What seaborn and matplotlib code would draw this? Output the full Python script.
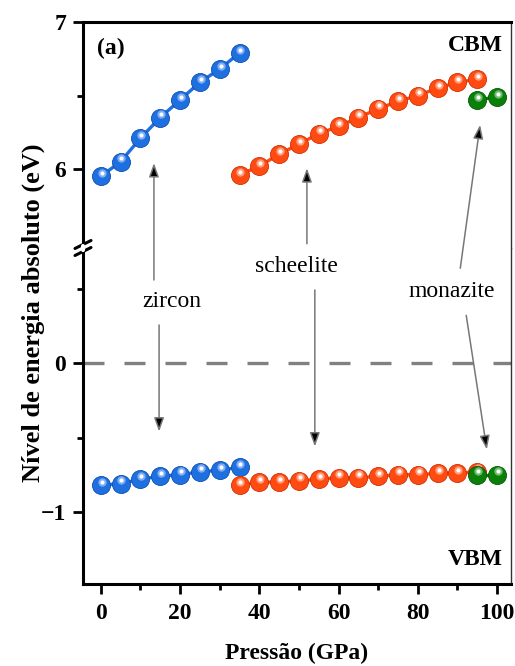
import matplotlib
matplotlib.use("Agg")
import matplotlib.pyplot as plt
import seaborn as sns
from matplotlib.transforms import offset_copy
from matplotlib.lines import Line2D
from matplotlib.ticker import MultipleLocator, FixedLocator

# ---------------- data ----------------
p_zircon = [0, 5, 10, 15, 20, 25, 30, 35]
cbm_zircon = [5.95, 6.05, 6.21, 6.35, 6.47, 6.59, 6.68, 6.79]
vbm_zircon = [-0.82, -0.81, -0.78, -0.76, -0.75, -0.73, -0.72, -0.70]

p_scheelite = [35, 40, 45, 50, 55, 60, 65, 70, 75, 80, 85, 90, 95]
cbm_scheelite = [5.96, 6.02, 6.10, 6.17, 6.24, 6.29, 6.35, 6.41, 6.46, 6.50, 6.55, 6.59, 6.61]
vbm_scheelite = [-0.82, -0.80, -0.80, -0.79, -0.78, -0.77, -0.77, -0.76, -0.75, -0.75, -0.74, -0.74, -0.73]

p_monazite = [95, 100]
cbm_monazite = [6.47, 6.49]
vbm_monazite = [-0.75, -0.75]

x_ticks = [0, 20, 40, 60, 80, 100]
top_ticks = [6, 7]
bot_ticks = [-1, 0]

# ---------------- style ----------------
sns.set_theme(style="ticks")
plt.rcParams["font.family"] = ["Liberation Serif", "DejaVu Serif"]
plt.rcParams["font.weight"] = "bold"
plt.rcParams["axes.labelweight"] = "bold"
plt.rcParams["text.color"] = "black"
plt.rcParams["axes.labelcolor"] = "black"

FS = 17
W, H = 515, 666
fig = plt.figure(figsize=(W / 100, H / 100), dpi=100)
L, R, T, B, BRK = 83, 511, 22, 584, 248
ax_top = fig.add_axes([L / W, 1 - BRK / H, (R - L) / W, (BRK - T) / H])
ax_bot = fig.add_axes([L / W, 1 - B / H, (R - L) / W, (B - BRK) / H])

ax_top.set_ylim(7 - (BRK - T) / 147, 7)
ax_bot.set_ylim((363 - B) / 149, (363 - BRK) / 149)
for ax in (ax_top, ax_bot):
    ax.set_xlim(-4.5, 103.5)
    ax.xaxis.set_major_locator(FixedLocator(x_ticks))
    ax.xaxis.set_minor_locator(MultipleLocator(10))
    ax.tick_params(which="major", direction="out", length=7, width=2,
                   labelsize=FS, colors="black", pad=5)
    ax.tick_params(which="minor", direction="out", length=4, width=2, colors="black")
    for s in ("left", "top", "bottom"):
        ax.spines[s].set_linewidth(2.2)
        ax.spines[s].set_color("black")
    ax.spines["right"].set_linewidth(1.0)
    ax.spines["right"].set_color("#333333")
    ax.set_facecolor("white")

ax_top.yaxis.set_major_locator(FixedLocator(top_ticks))
ax_top.yaxis.set_minor_locator(FixedLocator([6.5]))
ax_bot.yaxis.set_major_locator(FixedLocator(bot_ticks))
ax_bot.yaxis.set_minor_locator(FixedLocator([-0.5, 0.5]))

ax_top.spines["bottom"].set_visible(False)
ax_bot.spines["top"].set_visible(False)
ax_top.tick_params(axis="x", which="both", bottom=False, labelbottom=False)
ax_bot.tick_params(axis="x", which="both", top=False)
ax_bot.tick_params(axis="x", pad=7)

# dashed zero line
ax_bot.axhline(0, color="#808080", lw=2.4, dashes=(6.3, 6.0), zorder=1)

colors = {
    "zircon": ("#1e6fe0", "#0d4fb0", "#8fb8f5"),
    "scheelite": ("#ff4a12", "#d03000", "#ffab8c"),
    "monazite": ("#0a800a", "#055a05", "#7fc77f"),
}


def draw(ax, x, y, key, z):
    c, dark, light = colors[key]
    sns.lineplot(x=x, y=y, ax=ax, color=c, lw=2.4, marker="o", markersize=13,
                 markeredgewidth=0.6, markeredgecolor=dark, sort=False,
                 zorder=z, estimator=None)
    tr = offset_copy(ax.transData, fig=fig, x=0.6, y=2.4, units="points")
    ax.plot(x, y, ls="none", marker="o", ms=6, color=light, mew=0,
            alpha=0.85, transform=tr, zorder=z + 0.1)
    ax.plot(x, y, ls="none", marker="o", ms=3, color="white", mew=0,
            transform=tr, zorder=z + 0.2)


draw(ax_top, p_zircon, cbm_zircon, "zircon", 3)
draw(ax_top, p_scheelite, cbm_scheelite, "scheelite", 4)
draw(ax_top, p_monazite, cbm_monazite, "monazite", 5)
draw(ax_bot, p_zircon, vbm_zircon, "zircon", 3)
draw(ax_bot, p_scheelite, vbm_scheelite, "scheelite", 4)
draw(ax_bot, p_monazite, vbm_monazite, "monazite", 5)
for ax in (ax_top, ax_bot):
    if ax.get_legend() is not None:
        ax.get_legend().remove()
    ax.set_xlabel("")
    ax.set_ylabel("")

# labels inside
ax_top.text(-1, 6.82, "(a)", ha="left", va="center", fontsize=FS, fontweight="bold")
ax_top.text(101.5, 6.84, "CBM", ha="right", va="center", fontsize=FS, fontweight="bold")
ax_bot.text(101.5, -1.32, "VBM", ha="right", va="center", fontsize=FS, fontweight="bold")

# phase labels + arrows
labels = [("zircon", 17.9, 0.41), ("scheelite", 49.4, 0.646), ("monazite", 88.6, 0.48)]
for name, tx, ty in labels:
    ax_bot.text(tx, ty, name, ha="center", va="center", fontsize=FS,
                fontweight="normal", zorder=6)

arrow_kw = dict(arrowstyle="-|>,head_length=0.55,head_width=0.2", lw=1.1,
                ec="#777777", fc="black", mutation_scale=15, shrinkA=0, shrinkB=0)
# (tail in bottom-axis data, tip in top or bottom-axis data)
arrows = [
    ((13.4, 0.557), (13.4, 6.04), ax_top),
    ((14.7, 0.255), (14.7, -0.46), ax_bot),
    ((52.0, 0.80), (52.0, 6.005), ax_top),
    ((54.0, 0.49), (54.0, -0.56), ax_bot),
    ((90.7, 0.636), (95.7, 6.30), ax_top),
    ((92.2, 0.32), (97.4, -0.58), ax_bot),
]
for tail, tip, tip_ax in arrows:
    a = ax_bot.annotate("", xy=tip, xycoords=tip_ax.transData, xytext=tail,
                        textcoords=ax_bot.transData, arrowprops=arrow_kw,
                        annotation_clip=False, zorder=6)
    a.set_clip_on(False)
    a.arrow_patch.set_clip_on(False)

# axis break marks on left spine
x0, y0 = L / W, 1 - BRK / H
dx, dy = 8 / W, 4 / H
for off in (-3.5 / H, 3.5 / H):
    fig.add_artist(Line2D([x0 - dx, x0 + dx], [y0 + off - dy, y0 + off + dy],
                          transform=fig.transFigure, color="black", lw=2.2))
# white gap in spine
fig.add_artist(Line2D([x0, x0], [y0 - 2 / H, y0 + 2 / H], transform=fig.transFigure,
                      color="white", lw=3))

ax_bot.set_xlabel("Pressão (GPa)", fontsize=FS, fontweight="bold", labelpad=13,
                  color="black")
fig.text(33 / W, 1 - 313 / H, "Nível de energia absoluto (eV)", rotation=90,
         ha="center", va="center", fontsize=19, fontweight="bold", color="black")

fig.savefig("out.png", dpi=100, facecolor="white")
